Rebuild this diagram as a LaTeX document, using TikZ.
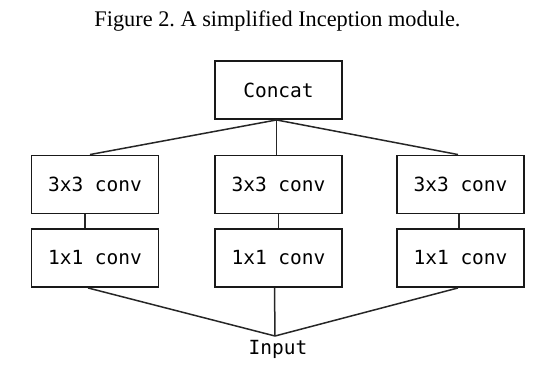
\documentclass[tikz,border=0pt]{standalone}
\usepackage{fontspec}
\setmainfont{Liberation Serif}
\setmonofont{DejaVu Sans Mono}
\frenchspacing
\begin{document}
\begin{tikzpicture}[x=1pt,y=-1pt,
  box/.style={draw=black!90,line width=1.9pt,minimum width=127pt,minimum height=58pt,inner sep=0pt,font=\fontsize{19.5}{22}\selectfont\ttfamily},
  link/.style={draw=black!85,line width=1.5pt}]
\useasboundingbox (0,0) rectangle (546,369);
\node[anchor=base,font=\fontsize{22.3}{26}\selectfont] (title) at (277.5,27) {Figure 2. A simplified Inception module.};
\node[box] (concat) at (278.5,90) {Concat};
\node[box] (l3) at (95,184.5) {3x3 conv};
\node[box] (m3) at (278.5,184.5) {3x3 conv};
\node[box] (r3) at (460.5,184.5) {3x3 conv};
\node[box] (l1) at (95,258) {1x1 conv};
\node[box] (m1) at (278.5,258) {1x1 conv};
\node[box] (r1) at (460.5,258) {1x1 conv};
\coordinate (join) at (275,336);
\node[anchor=base,inner sep=0pt,font=\fontsize{19.5}{22}\selectfont\ttfamily] (input) at (278,354) {Input};
\draw[link] ([xshift=-2pt]concat.south) -- ([xshift=-5pt]l3.north);
\draw[link] ([xshift=-2pt]concat.south) -- ([xshift=-2pt]m3.north);
\draw[link] ([xshift=-2pt]concat.south) -- ([xshift=-2.5pt]r3.north);
\draw[link] ([xshift=-10pt]l3.south) -- ([xshift=-10pt]l1.north);
\draw[link] (m3.south) -- (m1.north);
\draw[link] ([xshift=-1.5pt]r3.south) -- ([xshift=-1.5pt]r1.north);
\draw[link] ([xshift=-7pt]l1.south) -- (join);
\draw[link] ([xshift=-4pt]m1.south) -- (join);
\draw[link] ([xshift=-2.5pt]r1.south) -- (join);
\end{tikzpicture}
\end{document}
